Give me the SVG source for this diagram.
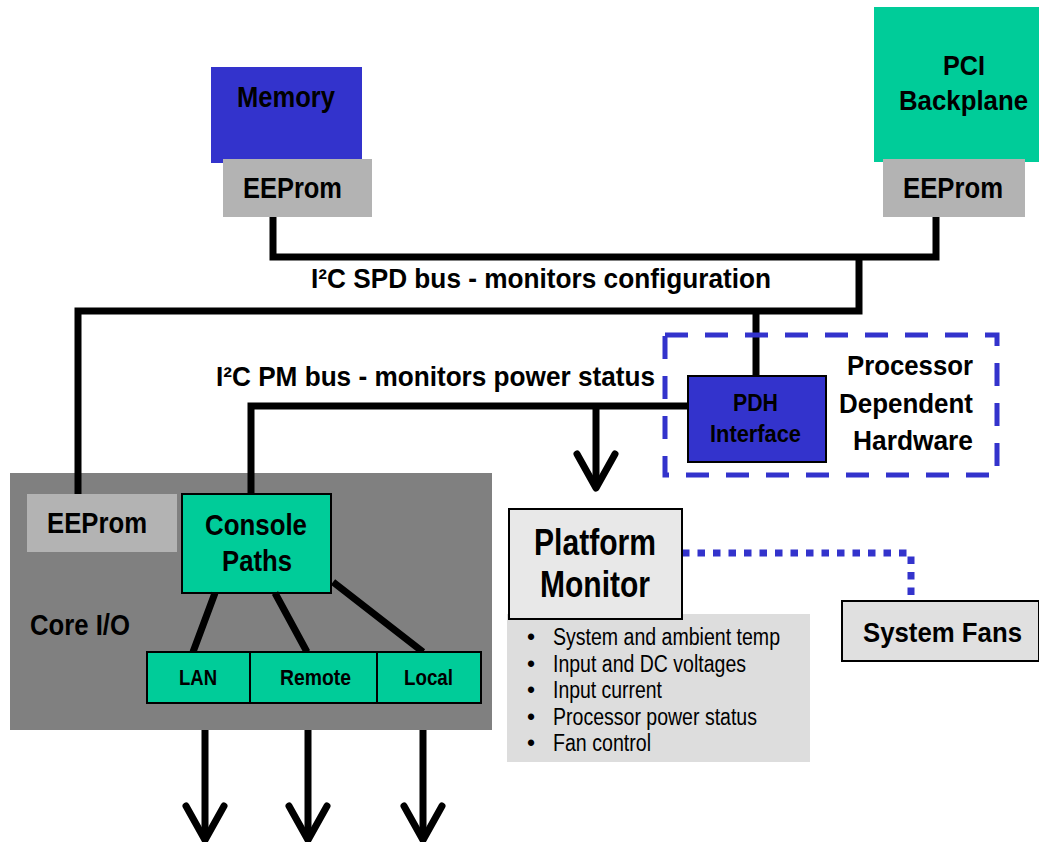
<svg xmlns="http://www.w3.org/2000/svg" width="1039" height="842" viewBox="0 0 1039 842">
<style>
text{font-family:"Liberation Sans",Arial,sans-serif;fill:#000}
.b{font-weight:bold}
.wire{fill:none;stroke:#000;stroke-width:7;stroke-linejoin:miter;stroke-linecap:butt}
.arr{fill:none;stroke:#000;stroke-width:7;stroke-linejoin:round;stroke-linecap:round}
.ol{stroke:#000;stroke-width:2}
</style>
<rect width="1039" height="842" fill="#fff"/>

<g id="memory">
<rect x="211" y="67" width="151" height="96" fill="#3333CC"/>
<text class="b" x="237" y="107" font-size="30" textLength="98" lengthAdjust="spacingAndGlyphs">Memory</text>
</g>
<g id="memory-eeprom">
<rect x="223" y="159" width="149" height="58" fill="#B3B3B3"/>
<text class="b" x="243" y="198" font-size="30" textLength="99" lengthAdjust="spacingAndGlyphs">EEProm</text>
</g>

<g id="pci-backplane">
<rect x="874" y="7" width="165" height="155" fill="#00CC99"/>
<text class="b" x="943" y="75" font-size="28" textLength="42" lengthAdjust="spacingAndGlyphs">PCI</text>
<text class="b" x="899" y="110" font-size="28" textLength="129" lengthAdjust="spacingAndGlyphs">Backplane</text>
</g>
<g id="pci-eeprom">
<rect x="883" y="159" width="142" height="58" fill="#B3B3B3"/>
<text class="b" x="903" y="198" font-size="30" textLength="100" lengthAdjust="spacingAndGlyphs">EEProm</text>
</g>

<g id="core-io">
<rect x="10" y="473" width="482" height="257" fill="#808080"/>
<text class="b" x="30" y="635" font-size="29" textLength="100" lengthAdjust="spacingAndGlyphs">Core I/O</text>
</g>
<g id="core-eeprom">
<rect x="27" y="494" width="150" height="58" fill="#B3B3B3"/>
<text class="b" x="47" y="533" font-size="30" textLength="100" lengthAdjust="spacingAndGlyphs">EEProm</text>
</g>
<g id="console-paths">
<rect x="182" y="494" width="149" height="99" fill="#00CC99" class="ol"/>
<text class="b" x="205" y="535" font-size="30" textLength="102" lengthAdjust="spacingAndGlyphs">Console</text>
<text class="b" x="222" y="571" font-size="30" textLength="70" lengthAdjust="spacingAndGlyphs">Paths</text>
</g>

<g id="connectors">
<path class="wire" d="M273,217 V257 H936 V217"/>
<path class="wire" d="M78,494 V311 H859 V257"/>
<path class="wire" d="M756,311 V376"/>
<path class="wire" d="M251,494 V406 H688"/>
<path class="wire" d="M596,406 V486"/>
<polyline class="arr" points="577,454 596,488 615,454"/>
<path class="wire" d="M215,593 L193,652 M275,593 L307,652 M333,582 L423,652"/>
<path class="wire" d="M205,730 V838 M308,730 V838 M423,730 V838"/>
<polyline class="arr" points="186,806 205,840 224,806"/>
<polyline class="arr" points="289,806 308,840 327,806"/>
<polyline class="arr" points="404,806 423,840 442,806"/>
<path d="M682,553 H911 V601" fill="none" stroke="#3333CC" stroke-width="7" stroke-dasharray="7.5 8"/>
</g>

<g id="lan">
<rect x="147" y="652" width="103" height="51" fill="#00CC99" class="ol"/>
<text class="b" x="179" y="685" font-size="22" textLength="38" lengthAdjust="spacingAndGlyphs">LAN</text>
</g>
<g id="remote">
<rect x="250" y="652" width="127" height="51" fill="#00CC99" class="ol"/>
<text class="b" x="280" y="685" font-size="22" textLength="71" lengthAdjust="spacingAndGlyphs">Remote</text>
</g>
<g id="local">
<rect x="377" y="652" width="104" height="51" fill="#00CC99" class="ol"/>
<text class="b" x="404" y="685" font-size="22" textLength="49" lengthAdjust="spacingAndGlyphs">Local</text>
</g>

<g id="labels">
<text class="b" x="311" y="288" font-size="28" textLength="460" lengthAdjust="spacingAndGlyphs">I²C SPD bus - monitors configuration</text>
<text class="b" x="216" y="386" font-size="28" textLength="439" lengthAdjust="spacingAndGlyphs">I²C PM bus - monitors power status</text>
</g>

<g id="pdh-group">
<rect x="665" y="335" width="332" height="140" fill="none" stroke="#3333CC" stroke-width="5" stroke-dasharray="23 17"/>
<text class="b" x="847" y="375" font-size="28" textLength="126" lengthAdjust="spacingAndGlyphs">Processor</text>
<text class="b" x="839" y="413" font-size="28" textLength="134" lengthAdjust="spacingAndGlyphs">Dependent</text>
<text class="b" x="853" y="450" font-size="28" textLength="120" lengthAdjust="spacingAndGlyphs">Hardware</text>
</g>
<g id="pdh-interface">
<rect x="688" y="376" width="138" height="86" fill="#3333CC" class="ol"/>
<text class="b" x="733" y="411" font-size="24" textLength="45" lengthAdjust="spacingAndGlyphs">PDH</text>
<text class="b" x="710" y="442" font-size="24" textLength="91" lengthAdjust="spacingAndGlyphs">Interface</text>
</g>

<g id="monitor-list">
<rect x="507" y="614" width="303" height="148" fill="#DDDDDD"/>
<g font-size="23">
<text x="527" y="645">•</text>
<text x="553" y="645" textLength="227" lengthAdjust="spacingAndGlyphs">System and ambient temp</text>
<text x="527" y="672">•</text>
<text x="553" y="672" textLength="193" lengthAdjust="spacingAndGlyphs">Input and DC voltages</text>
<text x="527" y="698">•</text>
<text x="553" y="698" textLength="109" lengthAdjust="spacingAndGlyphs">Input current</text>
<text x="527" y="725">•</text>
<text x="553" y="725" textLength="204" lengthAdjust="spacingAndGlyphs">Processor power status</text>
<text x="527" y="751">•</text>
<text x="553" y="751" textLength="98" lengthAdjust="spacingAndGlyphs">Fan control</text>
</g>
</g>
<g id="platform-monitor">
<rect x="509" y="509" width="173" height="110" fill="#E8E8E8" class="ol"/>
<text class="b" x="534" y="555" font-size="36" textLength="122" lengthAdjust="spacingAndGlyphs">Platform</text>
<text class="b" x="540" y="597" font-size="36" textLength="110" lengthAdjust="spacingAndGlyphs">Monitor</text>
</g>

<g id="system-fans">
<rect x="842" y="601" width="197" height="60" fill="#E0E0E0" class="ol"/>
<text class="b" x="863" y="642" font-size="27" textLength="159" lengthAdjust="spacingAndGlyphs">System Fans</text>
</g>
</svg>
